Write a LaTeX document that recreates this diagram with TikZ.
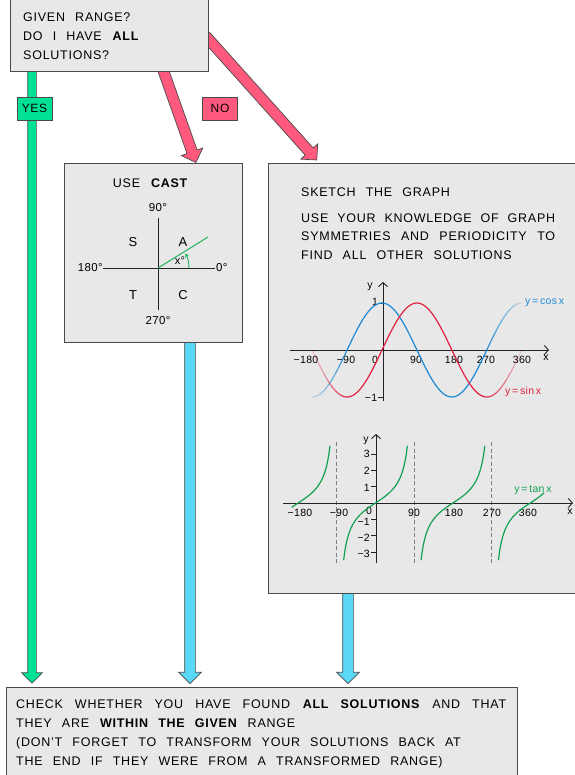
\documentclass[tikz,border=0pt]{standalone}
\usepackage{fontspec}
\setmainfont[LetterSpace=3]{Liberation Sans}
\newfontfamily\bodyfont[WordSpace={2.4}, LetterSpace=6]{Liberation Sans}
\usetikzlibrary{shapes.arrows,calc,arrows.meta,backgrounds}
\definecolor{boxgray}{HTML}{E8E8E8}
\definecolor{edge}{HTML}{4A4A4A}
\definecolor{axis}{HTML}{222222}
\definecolor{yesgreen}{HTML}{00E096}
\definecolor{nopink}{HTML}{FF5A7E}
\definecolor{cyanarrow}{HTML}{5AD8F7}
\definecolor{cosblue}{HTML}{1C8AD6}
\definecolor{sinred}{HTML}{E0213F}
\definecolor{tangreen}{HTML}{12A150}
\definecolor{castgreen}{HTML}{1DB35A}
\newcommand\fsz[1]{\fontsize{#1}{#1}\selectfont}
\newcommand\fatarr[4]{%
  \path let \p1=(#2), \p2=(#3), \n1={veclen(\x2-\x1,\y2-\y1)}, \n2={atan2(\y2-\y1,\x2-\x1)} in
  ($(\p1)!0.5!(\p2)$) node[single arrow, fill=#1, draw=edge, line width=0.7pt, inner xsep=0pt,
    inner ysep=#4, text height=0pt, text depth=0pt, minimum width=0pt, minimum height=\n1,
    single arrow head extend=6pt, single arrow tip angle=90, rotate=\n2] {};}
\tikzset{
  panel/.style={draw=edge, fill=boxgray, line width=0.9pt, inner sep=0pt, anchor=north west},
  tag/.style={draw=edge, line width=0.7pt, minimum width=35pt, minimum height=23pt, inner sep=0pt, font=\bodyfont\fsz{12}},
  txt/.style={anchor=base west, inner sep=0pt},
  tick/.style={inner sep=0pt, font=\fsz{10.5}},
  axisline/.style={draw=axis, line width=0.9pt, -{Straight Barb[length=4pt,width=9pt]}},
  curve/.style={line width=1.2pt, samples=80, smooth}
}
\begin{document}
\begin{tikzpicture}[x=1pt,y=-1pt]
\useasboundingbox (0,0) rectangle (574,775);
% boxes
\node[panel, minimum width=198pt, minimum height=78pt] (q) at (10,-7) {};
\node[panel, minimum width=178pt, minimum height=179pt] (cast) at (64,163) {};
\node[panel, minimum width=320pt, minimum height=430pt] (graph) at (268,163) {};
\node[panel, minimum width=511pt, minimum height=100pt] (check) at (6,687) {};
% arrow end points
\coordinate (yesEnd) at ($(check.north west)+(26,-6)$);
\coordinate (castEnd) at ($(check.north west)+(184,-6)$);
\coordinate (graphEnd) at ($(check.north west)+(342,-6)$);
\coordinate (noCast) at ($(cast.north west)+(131,-3)$);
\coordinate (noGraph) at ($(graph.north west)+(47,-5)$);
\begin{scope}[on background layer]
\fatarr{yesgreen}{$(q.south west)+(22,-5)$}{yesEnd}{4pt}
\fatarr{nopink}{$(q.south west)+(152,-5)$}{noCast}{5pt}
\fatarr{nopink}{$(q.north east)+(-5,41)$}{noGraph}{5pt}
\fatarr{cyanarrow}{$(cast.south west)+(126,-5)$}{castEnd}{5pt}
\fatarr{cyanarrow}{$(graph.south west)+(80,-5)$}{graphEnd}{5pt}
\end{scope}
% tags
\node[tag, fill=yesgreen] (yes) at (34.5,108.5) {YES};
\node[tag, fill=nopink] (no) at (220,108.5) {NO};
% question text
\begin{scope}[font=\bodyfont\fsz{12.5}]
\node[txt] (q1) at (23,21.7) {GIVEN RANGE?};
\node[txt] (q2) at (23,40.7) {DO I HAVE \textbf{ALL}};
\node[txt] (q3) at (23,59.7) {SOLUTIONS?};
\end{scope}
% CAST
\node[font=\bodyfont\fsz{12.5}, inner sep=0pt] (usecast) at (150.5,183) {USE \textbf{CAST}};
\coordinate (o) at (158,268);
\draw[axis, line width=1pt] (158,218) -- (158,310);
\draw[axis, line width=1pt] (103,268) -- (215,268);
\node[tick, font=\fsz{11.5}] (d90) at (158,208) {90°};
\node[tick, font=\fsz{11.5}] (d270) at (158,321) {270°};
\node[tick, font=\fsz{11.5}, anchor=east] (d180) at (103,268) {180°};
\node[tick, font=\fsz{11.5}, anchor=west] (d0) at (216,268) {0°};
\begin{scope}[font=\fsz{13}]
\node[inner sep=0pt] (S) at (133,242) {S};
\node[inner sep=0pt] (A) at (183,242) {A};
\node[inner sep=0pt] (T) at (133,295) {T};
\node[inner sep=0pt] (C) at (183,295) {C};
\end{scope}
\draw[castgreen, line width=1pt] (o) -- (208,237);
\draw[castgreen, line width=0.9pt, -{Stealth[length=4pt,width=4pt]}] ($(o)+(31,0)$) arc[start angle=0, end angle=-28, radius=31];
\node[tick, font=\fsz{11}] (xdeg) at (180,261) {x°};
% graph text
\begin{scope}[font=\bodyfont\fsz{12.5}]
\node[txt] (g1) at (301,196.3) {SKETCH THE GRAPH};
\node[txt] (g2) at (301,222.3) {\makebox[254pt][s]{USE YOUR KNOWLEDGE OF GRAPH}};
\node[txt] (g3) at (301,240.3) {\makebox[254pt][s]{SYMMETRIES AND PERIODICITY TO}};
\node[txt] (g4) at (301,259) {FIND ALL OTHER SOLUTIONS};
\end{scope}
% sin / cos graph
\draw[axisline] (290,350) -- (549,350);
\draw[axisline] (383,401) -- (383,282);
\draw[axis, line width=0.8pt] (378,303) -- (383,303);
\draw[axis, line width=0.8pt] (378,397) -- (383,397);
\node[tick] (sy) at (370,287) {y};
\node[tick] (sx) at (546,358) {x};
\node[tick] (s1) at (375,302) {1};
\node[tick] (sm1) at (371,398) {−1};
\node[tick] at (306,360) {−180};
\node[tick] at (346,360) {−90};
\node[tick] at (375,360) {0};
\node[tick] at (416,360) {90};
\node[tick] at (454,360) {180};
\node[tick] at (486,360) {270};
\node[tick] at (522,360) {360};
\foreach \a in {0,...,8}{
  \pgfmathsetmacro\op{0.2+0.09*\a}
  \pgfmathsetmacro\s{-180+10*\a}
  \pgfmathsetmacro\e{-170+10*\a}
  \draw[curve, cosblue, opacity=\op, domain=\s:\e, samples=8] plot ({382+0.388*\x},{350-47*cos(\x)});
  \draw[curve, sinred, opacity=\op, domain=\s:\e, samples=8] plot ({382+0.388*\x},{350-47*sin(\x)});
  \pgfmathsetmacro\s{350-10*\a}
  \pgfmathsetmacro\e{360-10*\a}
  \draw[curve, cosblue, opacity=\op, domain=\s:\e, samples=8] plot ({382+0.388*\x},{350-47*cos(\x)});
  \draw[curve, sinred, opacity=\op, domain=\s:\e, samples=8] plot ({382+0.388*\x},{350-47*sin(\x)});
}
\draw[curve, cosblue, domain=-90:270] plot ({382+0.388*\x},{350-47*cos(\x)});
\draw[curve, sinred, domain=-90:270] plot ({382+0.388*\x},{350-47*sin(\x)});
\node[tick, text=cosblue, anchor=west] (lcos) at (525,303) {y\,=\,cos\,x};
\node[tick, text=sinred, anchor=west] (lsin) at (505,392) {y\,=\,sin\,x};
% tan graph
\foreach \xa in {336.8,414.2,491.6}
  \draw[gray, line width=0.8pt, dashed, dash pattern=on 4pt off 2.5pt] (\xa,442) -- (\xa,565);
\draw[axisline] (283,503) -- (573,503);
\draw[axisline] (376,563) -- (376,434);
\foreach \v in {1,2,3,-1,-2,-3}{
  \draw[axis, line width=0.8pt] (371,{503-16.3*\v}) -- (376,{503-16.3*\v});
}
\node[tick, anchor=east] at (370,454) {3};
\node[tick, anchor=east] at (370,471) {2};
\node[tick, anchor=east] at (370,487.5) {1};
\node[tick, anchor=east] at (370,522) {−1};
\node[tick, anchor=east] at (370,538) {−2};
\node[tick, anchor=east] at (370,554) {−3};
\node[tick] (ty) at (366,441) {y};
\node[tick] (tx) at (570,512) {x};
\node[tick] at (300,513) {−180};
\node[tick] at (339,513) {−90};
\node[tick] at (369,511) {0};
\node[tick] at (414,513) {90};
\node[tick] at (454,513) {180};
\node[tick] at (492,513) {270};
\node[tick] at (528,513) {360};
\draw[curve, tangreen, domain=-195:-105.9] plot ({375.5+0.43*\x},{503-16.3*tan(\x)});
\draw[curve, tangreen, domain=-74.1:74.1] plot ({375.5+0.43*\x},{503-16.3*tan(\x)});
\draw[curve, tangreen, domain=105.9:254.1] plot ({375.5+0.43*\x},{503-16.3*tan(\x)});
\draw[curve, tangreen, domain=285.9:392] plot ({375.5+0.43*\x},{503-16.3*tan(\x)});
\node[tick, text=tangreen] (ltan) at (533,490) {y\,=\,tan\,x};
% check text
\begin{scope}[font=\bodyfont\fsz{12.5}]
\node[txt] (c1) at (16,708.5) {\makebox[490pt][s]{CHECK WHETHER YOU HAVE FOUND \textbf{ALL SOLUTIONS} AND THAT}};
\node[txt] (c2) at (16,727.3) {THEY ARE \textbf{WITHIN THE GIVEN} RANGE};
\node[txt] (c3) at (16,746.3) {(DON’T FORGET TO TRANSFORM YOUR SOLUTIONS BACK AT};
\node[txt] (c4) at (16,765.3) {THE END IF THEY WERE FROM A TRANSFORMED RANGE)};
\end{scope}
\end{tikzpicture}
\end{document}
